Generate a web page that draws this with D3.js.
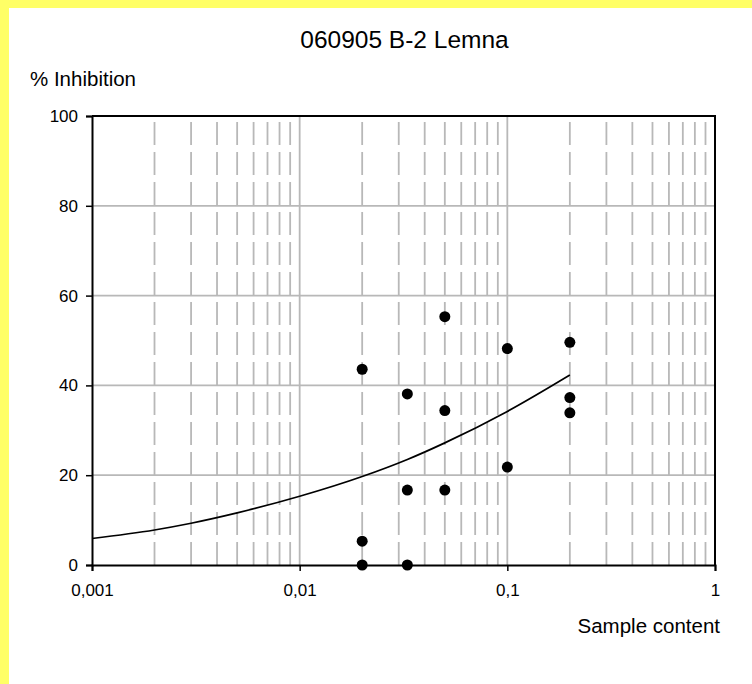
<!DOCTYPE html>
<html>
<head>
<meta charset="utf-8">
<script src="https://cdn.jsdelivr.net/npm/d3@7"></script>
<style>
  html, body { margin: 0; padding: 0; background: #fff; overflow: hidden; }
  svg { display: block; }
  text { font-family: "Liberation Sans", Arial, sans-serif; fill: #000; }
</style>
</head>
<body>
<div id="chart"></div>
<script>
// measured points (sample content, % inhibition)
const sampleX = [0.02, 0.02, 0.02, 0.033, 0.033, 0.033, 0.05, 0.05, 0.05, 0.1, 0.1, 0.2, 0.2, 0.2];
const inhibY  = [43.6, 5.3, 0, 38.1, 16.7, 0, 55.3, 34.4, 16.7, 48.2, 21.8, 49.6, 37.3, 33.9];

// fitted curve
const curveX = [0.001, 0.002, 0.003, 0.005, 0.01, 0.02, 0.033, 0.05, 0.1, 0.2];
const curveY = [5.9, 7.8, 9.3, 11.6, 15.3, 19.7, 23.5, 27.2, 34.2, 42.3];

const xTickVals = [0.001, 0.01, 0.1, 1];
const xTickText = ["0,001", "0,01", "0,1", "1"];
const yTickVals = [0, 20, 40, 60, 80, 100];

const width = 752, height = 684;
// plot box: x 92..715, y 116..565
const margin = {left: 92, top: 116, right: 752 - 715, bottom: 684 - 565};
const pw = width - margin.left - margin.right,
      ph = height - margin.top - margin.bottom;

let svg = d3.select("#chart")
            .append("svg")
            .attr("width", width)
            .attr("height", height);

// yellow strips on the left and top edge
svg.append("rect").attr("x", 0).attr("y", 0).attr("width", width).attr("height", 8).attr("fill", "#ffff66");
svg.append("rect").attr("x", 0).attr("y", 0).attr("width", 9).attr("height", height).attr("fill", "#ffff66");

let g = svg.append("g")
           .attr("transform", `translate(${margin.left},${margin.top})`);

let x = d3.scaleLog().domain([0.001, 1]).range([0, pw]);
let y = d3.scaleLinear().domain([0, 100]).range([ph, 0]);

// minor vertical grid (dashed)
let minor = x.ticks().filter(function(d) {
  let m = d / Math.pow(10, Math.floor(Math.log10(d) + 1e-9));
  return Math.round(m) !== 1;
});
g.selectAll(".vminor").data(minor).enter()
 .append("line")
 .attr("x1", d => x(d)).attr("x2", d => x(d))
 .attr("y1", ph).attr("y2", 0)
 .attr("stroke", "#b8b8b8")
 .attr("stroke-width", 1.8)
 .attr("stroke-dasharray", "23,7");

// major vertical grid
g.selectAll(".vmajor").data(xTickVals.slice(1, -1)).enter()
 .append("line")
 .attr("x1", d => x(d)).attr("x2", d => x(d))
 .attr("y1", ph).attr("y2", 0)
 .attr("stroke", "#b8b8b8")
 .attr("stroke-width", 1.8);

// horizontal grid
g.selectAll(".hgrid").data(yTickVals.slice(1, -1)).enter()
 .append("line")
 .attr("x1", 0).attr("x2", pw)
 .attr("y1", d => y(d)).attr("y2", d => y(d))
 .attr("stroke", "#b8b8b8")
 .attr("stroke-width", 1.8);

// frame (top + right)
g.append("path")
 .attr("d", `M0,0H${pw}V${ph}`)
 .attr("fill", "none")
 .attr("stroke", "#000")
 .attr("stroke-width", 2);

// axes
let xAxis = g.append("g")
             .attr("transform", `translate(0,${ph})`)
             .call(d3.axisBottom(x)
                     .tickValues(xTickVals)
                     .tickFormat((d, i) => xTickText[i])
                     .tickSize(6)
                     .tickPadding(13));
let yAxis = g.append("g")
             .call(d3.axisLeft(y)
                     .tickValues(yTickVals)
                     .tickSize(6)
                     .tickPadding(8));
[xAxis, yAxis].forEach(function(a) {
  a.select(".domain").attr("stroke", "#000").attr("stroke-width", 2);
  a.selectAll(".tick line").attr("stroke", "#000").attr("stroke-width", 1.5);
  a.selectAll(".tick text")
   .style("font-family", '"Liberation Sans", Arial, sans-serif')
   .style("font-size", "17px")
   .attr("fill", "#000");
});

// fitted curve
g.append("path")
 .datum(curveX.map((d, i) => [d, curveY[i]]))
 .attr("fill", "none")
 .attr("stroke", "#000")
 .attr("stroke-width", 1.7)
 .attr("d", d3.line()
              .x(d => x(d[0]))
              .y(d => y(d[1]))
              .curve(d3.curveMonotoneX));

// points
g.selectAll("circle").data(sampleX.map((d, i) => [d, inhibY[i]])).enter()
 .append("circle")
 .attr("cx", d => x(d[0]))
 .attr("cy", d => y(d[1]))
 .attr("r", 5.5)
 .attr("fill", "#000");

// title
svg.append("text")
   .attr("x", 404.5).attr("y", 48)
   .attr("text-anchor", "middle")
   .style("font-size", "24.5px")
   .text("060905 B-2 Lemna");

// y axis title
svg.append("text")
   .attr("x", 30).attr("y", 86)
   .style("font-size", "20.5px")
   .text("% Inhibition");

// x axis title
svg.append("text")
   .attr("x", 720).attr("y", 633)
   .attr("text-anchor", "end")
   .style("font-size", "20.5px")
   .text("Sample content");
</script>
</body>
</html>
